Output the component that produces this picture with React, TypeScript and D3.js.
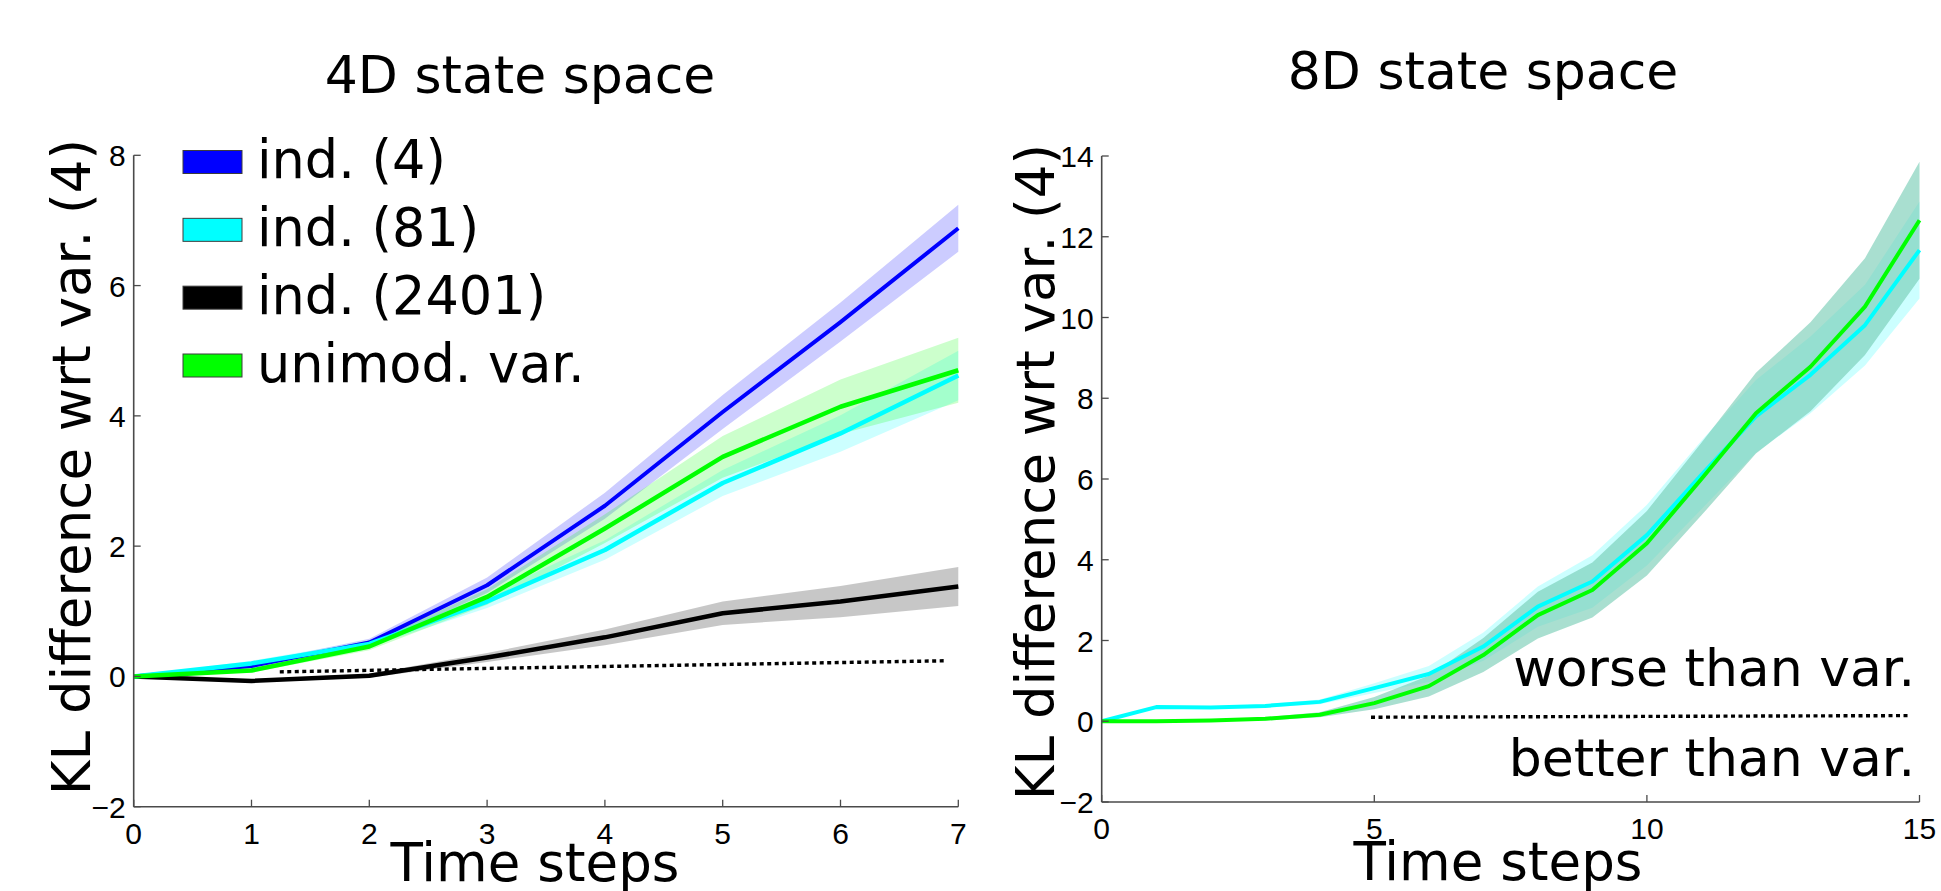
import React from "react";
import * as d3 from "d3";

// ---- 4D state space (left panel) ----
const stepsLeft = [0, 1, 2, 3, 4, 5, 6, 7];
const ind4Left = [0, 0.16, 0.52, 1.4, 2.62, 4.06, 5.44, 6.88];
const ind4LeftErr = [0, 0.04, 0.06, 0.12, 0.2, 0.26, 0.3, 0.36];
const ind81Left = [0, 0.2, 0.5, 1.15, 1.94, 2.97, 3.73, 4.62];
const ind81LeftErr = [0, 0.04, 0.05, 0.1, 0.15, 0.2, 0.28, 0.38];
const ind2401Left = [0, -0.07, 0.01, 0.29, 0.6, 0.97, 1.15, 1.38];
const ind2401LeftErr = [0, 0.02, 0.03, 0.07, 0.12, 0.18, 0.24, 0.3];
const unimodLeft = [0, 0.09, 0.46, 1.22, 2.27, 3.37, 4.14, 4.7];
const unimodLeftErr = [0, 0.03, 0.06, 0.12, 0.22, 0.32, 0.42, 0.5];
const refLeftX = [1.24, 6.89];
const refLeftY = [0.07, 0.24];
const xTicksLeft = [0, 1, 2, 3, 4, 5, 6, 7];
const yTicksLeft = [-2, 0, 2, 4, 6, 8];

// ---- 8D state space (right panel) ----
const stepsRight = [0, 1, 2, 3, 4, 5, 6, 7, 8, 9, 10, 11, 12, 13, 14, 15];
const ind81Right = [0, 0.35, 0.34, 0.38, 0.48, 0.82, 1.17, 1.85, 2.84, 3.46, 4.61, 6.1, 7.55, 8.58, 9.81, 11.67];
const ind81RightErr = [0, 0.03, 0.03, 0.04, 0.06, 0.12, 0.2, 0.35, 0.5, 0.65, 0.75, 0.85, 0.9, 0.95, 1.0, 1.2];
const unimodRight = [0, 0, 0.02, 0.06, 0.16, 0.45, 0.87, 1.64, 2.63, 3.25, 4.41, 6.0, 7.63, 8.78, 10.27, 12.41];
const unimodRightErr = [0, 0.02, 0.02, 0.04, 0.06, 0.15, 0.26, 0.42, 0.58, 0.68, 0.8, 0.9, 1.0, 1.1, 1.2, 1.45];
const refRightX = [4.94, 14.84];
const refRightY = [0.1, 0.14];
const xTicksRight = [0, 5, 10, 15];
const yTicksRight = [-2, 0, 2, 4, 6, 8, 10, 12, 14];

const legendNames = ["ind. (4)", "ind. (81)", "ind. (2401)", "unimod. var."];
const legendColors = ["#0000ff", "#00ffff", "#000000", "#00ff00"];

const TEXT_FONT = "DejaVu Sans, Verdana, sans-serif";
const TICK_FONT = "Liberation Sans, Arial, Helvetica, sans-serif";
const AXIS_COLOR = "#4a4a4a";

type Series = {
  values: number[];
  err: number[];
  color: string;
  bandFill: string;
  bandOpacity: number;
  width: number;
};

type PanelProps = {
  steps: number[];
  series: Series[];
  xDomain: [number, number];
  yDomain: [number, number];
  xRange: [number, number];
  yRange: [number, number];
  xTicks: number[];
  yTicks: number[];
  refX: number[];
  refY: number[];
  title: string;
  titleX: number;
  titleY: number;
  yLabelX: number;
  yLabelY: number;
  xLabelX: number;
  xLabelY: number;
};

const fmt = (v: number) => (v < 0 ? "\u2212" + Math.abs(v) : String(v));

const Panel = (p: PanelProps) => {
  const x = d3.scaleLinear().domain(p.xDomain).range(p.xRange);
  const y = d3.scaleLinear().domain(p.yDomain).range(p.yRange);
  const [xl, xr] = p.xRange;
  const [yb, yt] = p.yRange;

  return (
    <g>
      {/* bands */}
      {p.series.map((s, i) => {
        const area = d3
          .area<number>()
          .x((_, j) => x(p.steps[j]))
          .y0((d, j) => y(d - s.err[j]))
          .y1((d, j) => y(d + s.err[j]));
        return (
          <path key={"b" + i} d={area(s.values) || ""} fill={s.bandFill} fillOpacity={s.bandOpacity} stroke="none" />
        );
      })}

      {/* reference dotted line */}
      <path
        d={
          d3
            .line<number>()
            .x((d) => x(d))
            .y((_, j) => y(p.refY[j]))(p.refX) || ""
        }
        fill="none"
        stroke="#000"
        strokeWidth={3.4}
        strokeDasharray="4 3.5"
      />

      {/* mean lines */}
      {p.series.map((s, i) => {
        const line = d3
          .line<number>()
          .x((_, j) => x(p.steps[j]))
          .y((d) => y(d));
        return (
          <path key={"l" + i} d={line(s.values) || ""} fill="none" stroke={s.color} strokeWidth={s.width} strokeLinejoin="round" />
        );
      })}

      {/* axes */}
      <line x1={xl} x2={xl} y1={yb} y2={yt} stroke={AXIS_COLOR} strokeWidth={1.6} />
      <line x1={xl} x2={xr} y1={yb} y2={yb} stroke={AXIS_COLOR} strokeWidth={1.6} />
      {p.xTicks.map((t) => (
        <g key={"xt" + t}>
          <line x1={x(t)} x2={x(t)} y1={yb} y2={yb - 7} stroke={AXIS_COLOR} strokeWidth={1.3} />
          <text x={x(t)} y={yb + 37} textAnchor="middle" fontFamily={TICK_FONT} fontSize={30} fill="#000">
            {fmt(t)}
          </text>
        </g>
      ))}
      {p.yTicks.map((t) => (
        <g key={"yt" + t}>
          <line x1={xl} x2={xl + 7} y1={y(t)} y2={y(t)} stroke={AXIS_COLOR} strokeWidth={1.3} />
          <text x={xl - 8} y={y(t) + 11} textAnchor="end" fontFamily={TICK_FONT} fontSize={30} fill="#000">
            {fmt(t)}
          </text>
        </g>
      ))}

      {/* labels */}
      <text x={p.titleX} y={p.titleY} textAnchor="middle" fontFamily={TEXT_FONT} fontSize={52} fill="#000">
        {p.title}
      </text>
      <text x={p.xLabelX} y={p.xLabelY} textAnchor="middle" fontFamily={TEXT_FONT} fontSize={53} fill="#000">
        Time steps
      </text>
      <text
        transform={`translate(${p.yLabelX},${p.yLabelY}) rotate(-90)`}
        textAnchor="middle"
        fontFamily={TEXT_FONT}
        fontSize={53}
        fill="#000"
      >
        KL difference wrt var. (4)
      </text>
    </g>
  );
};

const Legend = () => {
  const rowY = d3.scalePoint<string>().domain(legendNames).range([162, 365.5]);
  return (
    <g>
      {legendNames.map((name, i) => {
        const cy = rowY(name) as number;
        return (
          <g key={name}>
            <rect x={183} y={cy - 11.5} width={59} height={23} fill={legendColors[i]} stroke="#3c3c3c" strokeWidth={1} />
            <text x={257} y={cy + 16} fontFamily={TEXT_FONT} fontSize={52.5} fill="#000">
              {name}
            </text>
          </g>
        );
      })}
    </g>
  );
};

export default function App() {
  const leftSeries: Series[] = [
    { values: ind2401Left, err: ind2401LeftErr, color: "#000000", bandFill: "#000000", bandOpacity: 0.22, width: 4.5 },
    { values: ind4Left, err: ind4LeftErr, color: "#0000ff", bandFill: "#0000ff", bandOpacity: 0.2, width: 4 },
    { values: ind81Left, err: ind81LeftErr, color: "#00ffff", bandFill: "#00ffff", bandOpacity: 0.2, width: 4.5 },
    { values: unimodLeft, err: unimodLeftErr, color: "#00ff00", bandFill: "#00ff00", bandOpacity: 0.2, width: 4.5 },
  ];
  const rightSeries: Series[] = [
    { values: ind81Right, err: ind81RightErr, color: "#00ffff", bandFill: "#00ffff", bandOpacity: 0.2, width: 4 },
    { values: unimodRight, err: unimodRightErr, color: "#00ff00", bandFill: "#6fc9b0", bandOpacity: 0.6, width: 4 },
  ];

  return (
    <svg
      width={1941}
      height={891}
      style={{ position: "absolute", left: 0, top: 0, background: "#fff", display: "block" }}
    >
      <rect x={0} y={0} width={1941} height={891} fill="#fff" />
      <Panel
        steps={stepsLeft}
        series={leftSeries}
        xDomain={[0, 7]}
        yDomain={[-2, 8]}
        xRange={[133.7, 958.3]}
        yRange={[806.7, 155.3]}
        xTicks={xTicksLeft}
        yTicks={yTicksLeft}
        refX={refLeftX}
        refY={refLeftY}
        title="4D state space"
        titleX={520}
        titleY={93}
        yLabelX={90}
        yLabelY={467}
        xLabelX={535}
        xLabelY={881}
      />
      <Panel
        steps={stepsRight}
        series={rightSeries}
        xDomain={[0, 15]}
        yDomain={[-2, 14]}
        xRange={[1101.7, 1919.5]}
        yRange={[802, 156]}
        xTicks={xTicksRight}
        yTicks={yTicksRight}
        refX={refRightX}
        refY={refRightY}
        title="8D state space"
        titleX={1483}
        titleY={89}
        yLabelX={1054}
        yLabelY={472}
        xLabelX={1498}
        xLabelY={880}
      />
      <Legend />
      <text x={1915} y={686} textAnchor="end" fontFamily={TEXT_FONT} fontSize={52} fill="#000">
        worse than var.
      </text>
      <text x={1915} y={776} textAnchor="end" fontFamily={TEXT_FONT} fontSize={52} fill="#000">
        better than var.
      </text>
    </svg>
  );
}
